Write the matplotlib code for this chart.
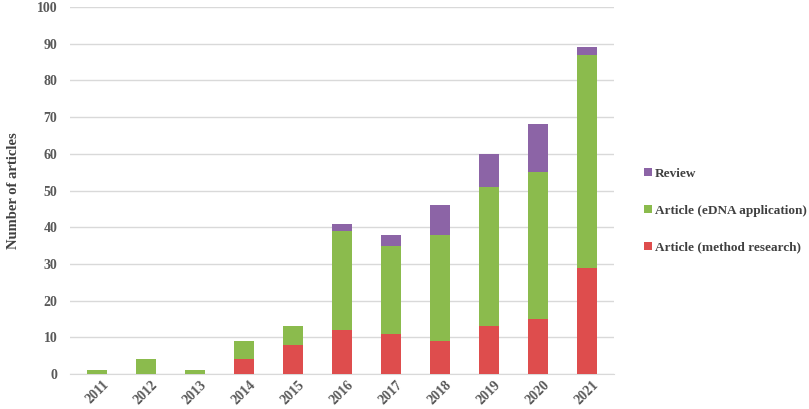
import numpy as np
import matplotlib.pyplot as plt

years = ['2011', '2012', '2013', '2014', '2015', '2016', '2017', '2018', '2019', '2020', '2021']
method = [0, 0, 0, 4, 8, 12, 11, 9, 13, 15, 29]
edna = [1, 4, 1, 5, 5, 27, 24, 29, 38, 40, 58]
review = [0, 0, 0, 0, 0, 2, 3, 8, 9, 13, 2]

plt.rcParams['font.family'] = ['Liberation Serif', 'DejaVu Serif']
plt.rcParams['font.weight'] = 'bold'

fig = plt.figure(figsize=(8.09, 4.09), dpi=100)
ax = fig.add_axes([70 / 809, 35 / 409, 544 / 809, 367 / 409])

x = np.arange(len(years))
method = np.array(method)
edna = np.array(edna)
review = np.array(review)
w = 0.4
ax.bar(x, method, w, color='#DE4D4D', label='Article (method research)', zorder=3)
ax.bar(x, edna, w, bottom=method, color='#8BBB4D', label='Article (eDNA application)', zorder=3)
ax.bar(x, review, w, bottom=method + edna, color='#8C64A6', label='Review', zorder=3)

ax.set_xlim(-0.55, 10.55)
ax.set_ylim(0, 100)
ax.set_yticks(range(0, 101, 10))
ax.grid(axis='y', color='#d9d9d9', linewidth=1, zorder=0)
ax.set_xticks(x)
ax.set_xticklabels(years, rotation=45, fontsize=10, color='#595959', fontweight='bold')
ax.tick_params(axis='y', labelsize=10, labelcolor='#595959', length=0, pad=9)
ax.tick_params(axis='x', length=0, pad=3)
for s in ['top', 'right', 'left']:
    ax.spines[s].set_visible(False)
ax.spines['bottom'].set_color('#d9d9d9')

ax.set_ylabel('Number of articles', fontsize=10.5, color='#404040', fontweight='bold', labelpad=12)

h, l = ax.get_legend_handles_labels()
fig.legend(h[::-1], l[::-1], loc='center left', bbox_to_anchor=(632 / 809, 0.485),
           frameon=False, prop={'size': 9.5, 'weight': 'bold'}, labelcolor='#404040',
           handlelength=0.6, handleheight=0.6, handletextpad=0.25, labelspacing=1.9)

plt.savefig('out.png', dpi=100)
